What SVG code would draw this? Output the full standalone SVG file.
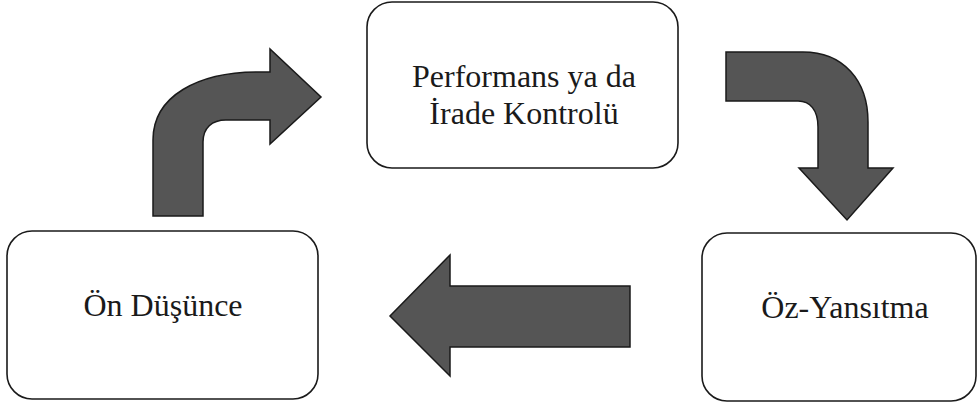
<svg xmlns="http://www.w3.org/2000/svg" width="978" height="405" viewBox="0 0 978 405">
<style>
.box{fill:#fff;stroke:#1a1a1a;stroke-width:1.6}
.lbl{font-family:"Liberation Serif","Times New Roman",serif;font-size:32px;fill:#1a1a1a;text-anchor:middle}
.arr{fill:#555;stroke:#1a1a1a;stroke-width:1.5;stroke-linejoin:miter}
</style>
<rect width="978" height="405" fill="#fff"/>
<g id="connectors">
<path class="arr" d="M153,216 L153,140 C153,96 198,72 258,72 L270,72 L270,49 L321,97 L270,144 L270,120 L226,120 C212,120 203,128 203,142 L203,216 Z"/>
<path class="arr" d="M726,52 L803,52 C843,52 868,80 868,122 L868,168 L893,168 L847,220 L799,168 L818,168 L818,127 C818,110 810,101 798,101 L726,101 Z"/>
<path class="arr" d="M630,286 L450,286 L450,255 L390,316 L450,376 L450,347 L630,347 Z"/>
</g>
<g id="node-performans">
<rect class="box" x="367" y="2" width="311" height="166" rx="25" ry="25"/>
<text class="lbl" x="524" y="87">Performans ya da</text>
<text class="lbl" x="524" y="124">İrade Kontrolü</text>
</g>
<g id="node-on-dusunce">
<rect class="box" x="7" y="231" width="311" height="168" rx="25" ry="25"/>
<text class="lbl" x="163" y="316">Ön Düşünce</text>
</g>
<g id="node-oz-yansitma">
<rect class="box" x="702" y="233" width="274" height="168" rx="25" ry="25"/>
<text class="lbl" x="845" y="318">Öz-Yansıtma</text>
</g>
</svg>
